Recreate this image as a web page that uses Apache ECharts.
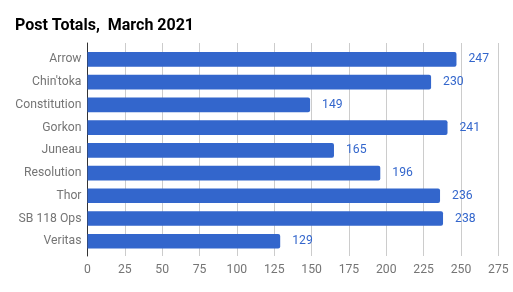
<!DOCTYPE html>
<html><head><meta charset="utf-8">
<script src="https://cdn.jsdelivr.net/npm/echarts@6/dist/echarts.min.js"></script>
<style>html,body{margin:0;padding:0;background:#fff}#c{width:513px;height:292px}</style>
</head><body><div id="c"></div>
<script>
const categories = ["Arrow","Chin'toka","Constitution","Gorkon","Juneau","Resolution","Thor","SB 118 Ops","Veritas"];
const values = [247,230,149,241,165,196,236,238,129];
const xMin = 0, xMax = 275, xStep = 25;
const title = "Post Totals,  March 2021";

const chart = echarts.init(document.getElementById('c'), null, {renderer:'canvas'});
const font = 'Roboto';
chart.setOption({
  animation:false,
  backgroundColor:'#ffffff',
  title:{text:title,left:10,top:13,textStyle:{fontFamily:font,fontSize:16,fontWeight:'bold',color:'#000'}},
  grid:[
    {left:87.5,right:14.7,top:43,bottom:36},
    {left:87.5,right:14.7,top:48,height:204.6}
  ],
  xAxis:[
    {gridIndex:0,type:'value',min:xMin,max:xMax,interval:xStep,
     axisLine:{show:false},axisTick:{show:false},
     axisLabel:{color:'#757575',fontFamily:font,fontSize:12.2,margin:8},
     splitLine:{show:true,lineStyle:{color:'#cccccc',width:1}}},
    {gridIndex:1,type:'value',min:xMin,max:xMax,show:false,splitLine:{show:false}}
  ],
  yAxis:[
    {gridIndex:0,type:'value',min:0,max:1,
     axisLine:{show:true,onZero:false,lineStyle:{color:'#333333',width:1}},
     axisTick:{show:false},axisLabel:{show:false},splitLine:{show:false}},
    {gridIndex:1,type:'category',data:categories,inverse:true,
     axisLine:{show:false},axisTick:{show:false},
     axisLabel:{color:'#757575',fontFamily:font,fontSize:12.2,margin:6},
     splitLine:{show:false}}
  ],
  series:[{
    type:'bar',xAxisIndex:1,yAxisIndex:1,data:values,barWidth:14.7,
    itemStyle:{color:'#3366cc',borderRadius:[0,2,2,0]},
    label:{show:true,position:'right',distance:12,color:'#3366cc',fontFamily:font,fontSize:12.2}
  }]
});
</script></body></html>
